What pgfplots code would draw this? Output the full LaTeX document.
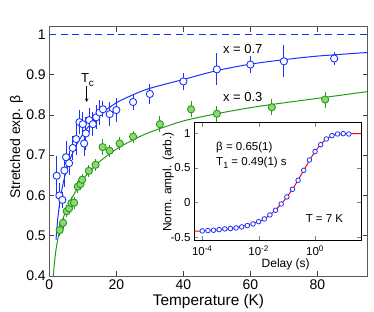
\documentclass[border=0pt]{standalone}
\usepackage{fontspec}
\setmainfont{Liberation Sans}
\usepackage{pgfplots}
\pgfplotsset{compat=1.18}
\usepackage{pgfplotstable}
\definecolor{mblue}{rgb}{0.1,0.2,1}
\definecolor{mgreen}{rgb}{0.15,0.6,0.1}
\definecolor{lgreen}{rgb}{0.55,0.85,0.45}

\pgfplotstableread{
T b e
2.2 0.649 0.05
3.0 0.600 0.03
3.9 0.589 0.02
4.5 0.662 0.04
5.0 0.695 0.04
5.9 0.680 0.03
7.0 0.718 0.03
8.0 0.740 0.04
9.0 0.782 0.03
10.0 0.777 0.03
10.4 0.729 0.03
10.9 0.754 0.04
11.9 0.787 0.03
13.0 0.777 0.03
14.0 0.794 0.03
15.0 0.806 0.03
16.0 0.814 0.02
18.0 0.802 0.03
20.0 0.812 0.03
25.0 0.832 0.02
30.0 0.852 0.025
40.0 0.883 0.02
50.0 0.913 0.04
60.0 0.925 0.02
70.0 0.933 0.04
85.0 0.940 0.015
}\bluedata

\pgfplotstableread{
T b e
3.1 0.514 0.015
4.1 0.532 0.015
5.2 0.561 0.015
5.9 0.568 0.015
6.6 0.581 0.015
7.4 0.582 0.015
8.5 0.622 0.015
9.3 0.628 0.015
9.8 0.639 0.015
11.8 0.661 0.015
13.8 0.676 0.015
15.9 0.720 0.02
18.0 0.711 0.015
21.0 0.729 0.015
25.0 0.746 0.015
33.0 0.777 0.02
42.3 0.814 0.02
50.0 0.803 0.02
66.4 0.819 0.02
82.3 0.838 0.02
}\greendata

\pgfplotstableread{
t m
1e-4 -0.409
1.585e-4 -0.404
2.512e-4 -0.399
3.981e-4 -0.390
6.310e-4 -0.380
1e-3 -0.375
1.585e-3 -0.366
2.512e-3 -0.351
3.981e-3 -0.332
6.310e-3 -0.308
1e-2 -0.275
1.585e-2 -0.236
2.512e-2 -0.178
3.981e-2 -0.111
6.310e-2 -0.020
0.1 0.082
0.1585 0.192
0.2512 0.322
0.3981 0.466
0.6310 0.615
1 0.736
1.585 0.836
2.512 0.918
3.981 0.966
6.310 0.990
10 0.995
15.85 0.990
}\insetdata

\begin{document}
\begin{tikzpicture}[x=1pt,y=1pt]
\useasboundingbox (0,0) rectangle (374,312);
\begin{axis}[at={(49.3pt,36pt)}, anchor=south west, scale only axis,
  width=318.4pt, height=249.3pt,
  xmin=0, xmax=95, ymin=0.4, ymax=1.019,
  xtick={0,20,40,60,80}, ytick={0.4,0.5,0.6,0.7,0.8,0.9,1},
  tick align=inside, major tick length=5pt,
  tick style={black!75, line width=0.5pt},
  ticklabel style={font=\fontsize{14}{16}\selectfont},
  /pgf/number format/assume math mode=true,
  axis line style={black!65, line width=0.7pt},
  clip=true]
\addplot[mblue, dashed, line width=1pt, dash pattern=on 7pt off 4.5pt] coordinates {(0,1) (95,1)};
\addplot[mblue, line width=1pt, smooth] coordinates {
(2.0,0.49) (2.5,0.54) (3,0.575) (3.5,0.602) (4,0.625) (5,0.66) (6,0.686) (7,0.706) (8,0.724) (10,0.752) (12,0.774) (15,0.80) (20,0.83) (25,0.85) (30,0.866) (40,0.888) (50,0.910) (60,0.926) (70,0.937) (80,0.946) (95,0.955)};
\addplot[mgreen, line width=1pt, smooth] coordinates {
(1.1,0.39) (1.5,0.43) (2,0.465) (2.5,0.49) (3,0.51) (4,0.54) (5,0.563) (6,0.582) (8,0.612) (10,0.640) (12,0.658) (15,0.684) (20,0.715) (25,0.738) (30,0.757) (40,0.785) (50,0.803) (60,0.818) (70,0.83) (80,0.841) (95,0.858)};
\addplot[mblue, line width=1.05pt, mark=none, only marks, forget plot,
  error bars/.cd, y dir=both, y explicit, error mark=none,
  error bar style={mblue, line width=1.05pt}]
  table[x=T, y=b, y error=e] {\bluedata};
\addplot[mgreen, line width=1.05pt, mark=none, only marks, forget plot,
  error bars/.cd, y dir=both, y explicit, error mark=none,
  error bar style={mgreen, line width=1.05pt}]
  table[x=T, y=b, y error=e] {\greendata};
\addplot[mblue, only marks, mark=*, mark size=3.6pt, mark options={draw=mblue, fill=white, line width=0.9pt}]
  table[x=T, y=b] {\bluedata};
\addplot[mgreen, only marks, mark=*, mark size=3.6pt, mark options={draw=mgreen, fill=lgreen, line width=0.9pt}]
  table[x=T, y=b] {\greendata};
\end{axis}

\begin{axis}[at={(194pt,72pt)}, anchor=south west, scale only axis,
  width=167pt, height=117.3pt,
  xmode=log, xmin=5.1e-5, xmax=42.7, ymin=-0.54, ymax=1.153,
  xtick={1e-4,1e-2,1}, minor xtick={},
  xticklabels={10\textsuperscript{-4},10\textsuperscript{-2},10\textsuperscript{0}},
  ytick={-0.5,0,0.5,1}, yticklabels={-0.5,0,0.5,1},
  tick align=inside, major tick length=4pt,
  ticklabel style={font=\fontsize{11.5}{13}\selectfont},
  xticklabel style={yshift=-2pt},
  axis background/.style={fill=white},
  axis line style={black, line width=0.7pt},
  clip=true]
\addplot[red, line width=1pt, smooth] coordinates {
(5.1e-5,-0.411) (1e-4,-0.409) (1e-3,-0.375) (1e-2,-0.275) (2.512e-2,-0.178) (6.310e-2,-0.020) (0.1585,0.192) (0.3981,0.466) (1,0.736) (2.512,0.918) (6.310,0.990) (15.85,0.994) (42.7,0.994)};
\addplot[mblue, only marks, mark=*, mark size=2.3pt, mark options={draw=mblue, fill=white, line width=0.8pt}]
  table[x=t, y=m] {\insetdata};
\end{axis}

\node[font=\fontsize{15.4}{18}\selectfont] at (208.5,10.5) {Temperature (K)};
\node[font=\fontsize{14}{16}\selectfont, rotate=90] at (16.5,165) {Stretched exp. β};
\node[font=\fontsize{12}{14}\selectfont, rotate=90] at (168.3,130) {Norm. ampl. (arb.)};
\node[font=\fontsize{12}{14}\selectfont] at (285.7,48) {Delay (s)};
\node[font=\fontsize{13}{15}\selectfont] at (242.7,263) {x = 0.7};
\node[font=\fontsize{13}{15}\selectfont] at (242.7,214.7) {x = 0.3};
\node[font=\fontsize{13}{15}\selectfont] at (87.5,232) {T\raisebox{-0.5ex}{\fontsize{10}{12}\selectfont c}};
\draw[->, >=stealth, line width=0.6pt] (86.7,226) -- (86.7,210);
\node[font=\fontsize{11.5}{13}\selectfont, anchor=west] at (212.7,164.7) {β = 0.65(1)};
\node[font=\fontsize{11.5}{13}\selectfont, anchor=west] at (212.7,148.7) {T\raisebox{-0.5ex}{\fontsize{9}{11}\selectfont 1} = 0.49(1) s};
\node[font=\fontsize{11.5}{13}\selectfont, anchor=east] at (346.7,93) {T = 7 K};
\end{tikzpicture}
\end{document}
